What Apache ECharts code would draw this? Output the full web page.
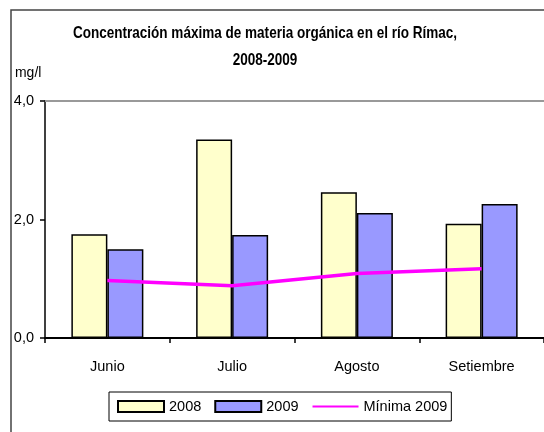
<!DOCTYPE html>
<html>
<head>
<meta charset="utf-8">
<script src="https://cdn.jsdelivr.net/npm/echarts@6/dist/echarts.min.js"></script>
<style>
    html, body { margin: 0; padding: 0; background: #fff; }
    #main { width: 544px; height: 432px; }
</style>
</head>
<body>
<div id="main"></div>
<script>
    var FONT = '"Liberation Sans Narrow", "Arial Narrow", "Liberation Sans", sans-serif';

    var categories = ['Junio', 'Julio', 'Agosto', 'Setiembre'];
    var data2008 = [1.75, 3.35, 2.46, 1.93];
    var data2009 = [1.50, 1.74, 2.11, 2.26];
    var minima2009 = [0.97, 0.88, 1.09, 1.17];
    var yTicks = [0, 2, 4];
    var titleLines = ['Concentración máxima de materia orgánica en el río Rímac,', '2008-2009'];

    // titulo con fuente "estrecha" simulada (scaleX)
    var titleFont = 'bold 16.5px ' + FONT;

    var myChart = echarts.init(document.getElementById('main'));
    var option = {
        backgroundColor: '#fff',
        animation: false,
        textStyle: { fontFamily: FONT, color: '#000' },
        graphic: [
            {
                type: 'rect',
                shape: { x: 11, y: 10, width: 600, height: 500 },
                style: { fill: 'none', stroke: '#444', lineWidth: 1.5 },
                z: 0
            },
            {
                type: 'text',
                x: 265, y: 33, scaleX: 0.82,
                style: { text: titleLines[0], font: titleFont, fill: '#000', align: 'center', verticalAlign: 'middle' }
            },
            {
                type: 'text',
                x: 265, y: 60, scaleX: 0.82,
                style: { text: titleLines[1], font: titleFont, fill: '#000', align: 'center', verticalAlign: 'middle' }
            },
            {
                type: 'text',
                x: 15, y: 73, scaleX: 0.9,
                style: { text: 'mg/l', font: '15.5px ' + FONT, fill: '#000', verticalAlign: 'middle' }
            }
        ],
        legend: {
            left: 109,
            top: 392,
            padding: [7, 4, 7, 8],
            itemGap: 13,
            itemWidth: 46,
            itemHeight: 11,
            borderColor: '#000',
            borderWidth: 1,
            textStyle: { fontFamily: FONT, fontSize: 14.5, color: '#000' },
            data: [
                { name: '2008', icon: 'rect' },
                { name: '2009', icon: 'rect' },
                { name: 'Mínima 2009', itemStyle: { opacity: 0 } }
            ]
        },
        grid: {
            left: 45,
            top: 101,
            width: 505,
            height: 237,
            containLabel: false
        },
        xAxis: [
            {
                type: 'category',
                data: categories,
                axisLine: { lineStyle: { color: '#000', width: 2 } },
                axisTick: { show: true, length: 5, lineStyle: { color: '#000', width: 1.5 } },
                axisLabel: { fontFamily: FONT, fontSize: 14.5, color: '#000', margin: 21 },
                splitLine: { show: false }
            },
            {
                type: 'category',
                position: 'top',
                data: categories,
                axisLine: { lineStyle: { color: '#999', width: 2 } },
                axisTick: { show: false },
                axisLabel: { show: false },
                splitLine: { show: false }
            }
        ],
        yAxis: {
            type: 'value',
            min: yTicks[0],
            max: yTicks[yTicks.length - 1],
            interval: yTicks[1] - yTicks[0],
            axisLine: { show: true, lineStyle: { color: '#000', width: 1.5 } },
            axisTick: { show: true, length: 5, lineStyle: { color: '#000', width: 1.5 } },
            axisLabel: {
                fontFamily: FONT, fontSize: 14.5, color: '#000', margin: 11,
                formatter: function (v) { return v.toFixed(1).replace('.', ','); }
            },
            splitLine: { show: false }
        },
        series: [
            {
                name: '2008',
                type: 'bar',
                data: data2008,
                barWidth: 36,
                barGap: '0%',
                itemStyle: { color: '#FFFFCC', borderColor: '#000', borderWidth: 1.5 }
            },
            {
                name: '2009',
                type: 'bar',
                data: data2009,
                barWidth: 36,
                itemStyle: { color: '#9999FF', borderColor: '#000', borderWidth: 1.5 }
            },
            {
                name: 'Mínima 2009',
                type: 'line',
                data: minima2009,
                symbol: 'none',
                showSymbol: false,
                itemStyle: { color: '#FF00FF' },
                lineStyle: { color: '#FF00FF', width: 3.5 },
                z: 5
            }
        ]
    };
    myChart.setOption(option);
</script>
</body>
</html>
